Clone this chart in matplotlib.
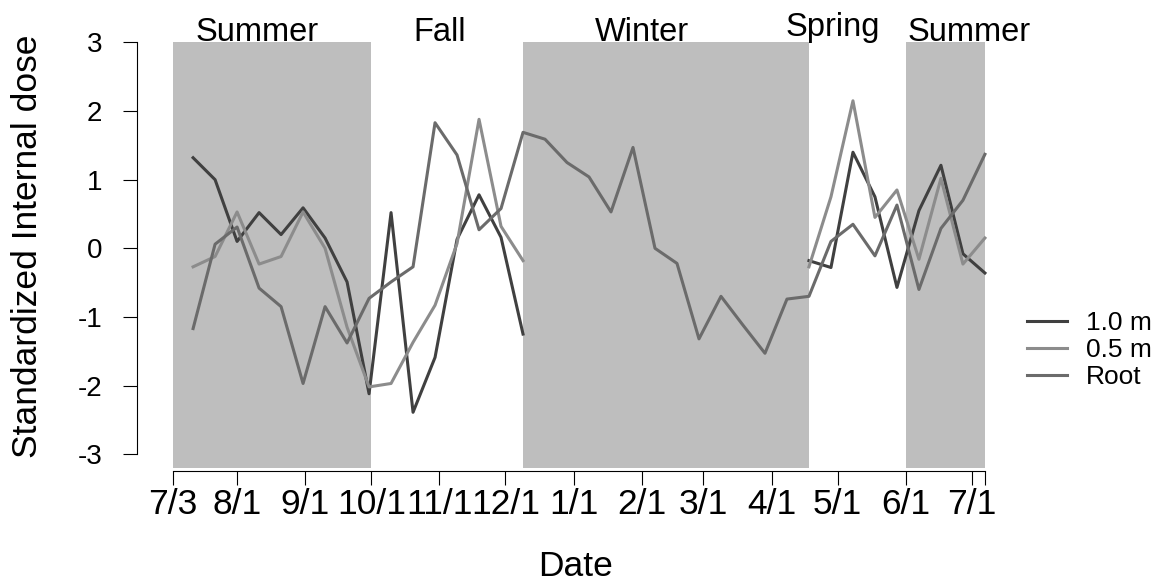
# Standardized internal dose by depth over one year, with seasons shaded
import numpy as np
import pandas as pd
import matplotlib
matplotlib.use("Agg")
import matplotlib.pyplot as plt
import matplotlib.dates as mdates

plt.rcParams['font.family'] = ['Liberation Sans', 'DejaVu Sans']

# sampling dates (every 10 days)
dates = ["2013-07-12", "2013-07-22", "2013-08-01", "2013-08-11", "2013-08-21",
         "2013-08-31", "2013-09-10", "2013-09-20", "2013-09-30", "2013-10-10",
         "2013-10-20", "2013-10-30", "2013-11-09", "2013-11-19", "2013-11-29",
         "2013-12-09", "2013-12-19", "2013-12-29", "2014-01-08", "2014-01-18",
         "2014-01-28", "2014-02-07", "2014-02-17", "2014-02-27", "2014-03-09",
         "2014-03-19", "2014-03-29", "2014-04-08", "2014-04-18", "2014-04-28",
         "2014-05-08", "2014-05-18", "2014-05-28", "2014-06-07", "2014-06-17",
         "2014-06-27", "2014-07-07"]

nan = np.nan
dose_1m = [1.32, 1.00, 0.10, 0.52, 0.20, 0.59, 0.15, -0.49, -2.12, 0.52,
           -2.39, -1.59, 0.13, 0.78, 0.16, -1.25,
           nan, nan, nan, nan, nan, nan, nan, nan, nan, nan, nan, nan,
           -0.18, -0.28, 1.40, 0.75, -0.57, 0.55, 1.21, -0.08, -0.36]
dose_05m = [-0.27, -0.12, 0.53, -0.23, -0.12, 0.53, 0.00, -1.15, -2.02, -1.97,
            -1.37, -0.83, 0.07, 1.88, 0.32, -0.18,
            nan, nan, nan, nan, nan, nan, nan, nan, nan, nan, nan, nan,
            -0.27, 0.75, 2.15, 0.45, 0.85, -0.16, 1.02, -0.23, 0.15]
dose_root = [-1.17, 0.06, 0.31, -0.58, -0.85, -1.97, -0.85, -1.38, -0.73, -0.49,
             -0.27, 1.83, 1.36, 0.27, 0.58, 1.69,
             1.59, 1.25, 1.04, 0.53, 1.47, 0.00, -0.22, -1.32, -0.70, -1.12,
             -1.53, -0.74,
             -0.70, 0.10, 0.35, -0.11, 0.63, -0.60, 0.29, 0.70, 1.37]

tick_dates = ["2013-07-03", "2013-08-01", "2013-09-01", "2013-10-01", "2013-11-01",
              "2013-12-01", "2014-01-01", "2014-02-01", "2014-03-01", "2014-04-01",
              "2014-05-01", "2014-06-01", "2014-07-01", "2014-07-07"]
tick_labels = ["7/3", "8/1", "9/1", "10/1", "11/1", "12/1", "1/1", "2/1", "3/1",
               "4/1", "5/1", "6/1", "7/1", ""]

shade_start = ["2013-07-03", "2013-12-09", "2014-06-01"]
shade_end = ["2013-10-01", "2014-04-18", "2014-07-07"]

season_names = ["Summer", "Fall", "Winter", "Spring", "Summer"]
season_dates = ["2013-08-10", "2013-11-01", "2014-02-01", "2014-04-29", "2014-06-30"]
season_y = [3.02, 3.02, 3.02, 3.09, 3.02]

x = pd.to_datetime(dates)

fig = plt.figure(figsize=(11.63, 5.84), dpi=100)
ax = fig.add_axes([137 / 1163, 1 - 471.3 / 584, (1021 - 137) / 1163, (471.3 - 25.3) / 584])

for s, e in zip(shade_start, shade_end):
    ax.fill_between([pd.Timestamp(s), pd.Timestamp(e)], -3.2, 3.0,
                    color='#bebebe', linewidth=0, zorder=0)

ax.plot(x, dose_1m, color='#404040', lw=2.2, label='1.0 m')
ax.plot(x, dose_05m, color='#8c8c8c', lw=2.2, label='0.5 m')
ax.plot(x, dose_root, color='#6b6b6b', lw=2.2, label='Root')

for name, d, yy in zip(season_names, season_dates, season_y):
    ax.text(pd.Timestamp(d), yy, name, ha='center', va='baseline',
            fontsize=23.5, clip_on=False)

x0 = mdates.date2num(pd.Timestamp("2013-07-03"))
x1 = mdates.date2num(pd.Timestamp("2014-07-07"))
ax.set_xlim(x0 - 16.5, x1 + 16.4)
ax.set_ylim(-3.25, 3.25)

ax.set_xticks(pd.to_datetime(tick_dates))
ax.set_xticklabels(tick_labels)
ax.set_yticks([-3, -2, -1, 0, 1, 2, 3])
ax.set_yticklabels(["-3", "-2", "-1", "0", "1", "2", "3"])

for side in ['top', 'right']:
    ax.spines[side].set_visible(False)
ax.spines['left'].set_bounds(-3, 3)
ax.spines['bottom'].set_bounds(x0, x1)
ax.tick_params(axis='x', length=10, width=0.8, labelsize=25.5, pad=2)
ax.tick_params(axis='y', length=10, width=0.8, labelsize=20, pad=15)
ax.set_facecolor('none')

fig.text(28 / 1163, 1 - 246 / 584, "Standardized Internal dose", rotation=90,
         ha='center', va='center', fontsize=25.5)
fig.text(576 / 1163, 1 - 567 / 584, "Date", ha='center', va='center', fontsize=25.5)

ax.legend(loc='center left', bbox_to_anchor=(1027 / 1163, 1 - 350 / 584),
          bbox_transform=fig.transFigure, frameon=False, fontsize=19,
          borderpad=0, borderaxespad=0, handlelength=1.5, handletextpad=0.75,
          labelspacing=0.12)

fig.savefig("out.png", dpi=100)
